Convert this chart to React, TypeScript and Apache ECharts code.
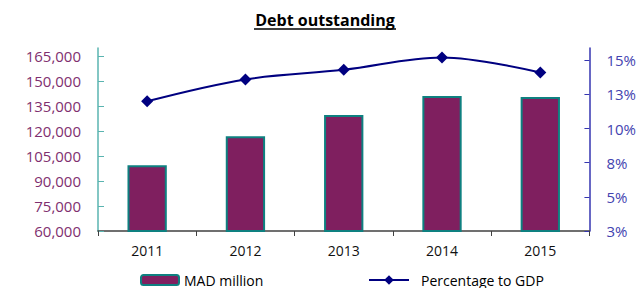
import React, { useEffect, useRef } from "react";
import * as echarts from "echarts";

const years = ["2011", "2012", "2013", "2014", "2015"];
const debtMad = [99500, 117000, 129700, 141100, 140500];
const pctGdp = [12.0, 13.6, 14.3, 15.2, 14.1];
const leftTicks = [60000, 75000, 90000, 105000, 120000, 135000, 150000, 165000];
const rightTicks = [2.5, 5, 7.5, 10, 12.5, 15];

const FONT = '"Open Sans", "Noto Sans", sans-serif';

export default function App() {
  const ref = useRef<HTMLDivElement>(null);
  useEffect(() => {
    document.body.style.margin = "0";
    if (!ref.current) return;
    const chart = echarts.init(ref.current, undefined, { renderer: "svg" });
    chart.setOption({
      animation: false,
      backgroundColor: "#ffffff",
      textStyle: { fontFamily: FONT },
      graphic: [
        {
          type: "text",
          x: 325,
          y: 20,
          style: {
            text: "Debt outstanding",
            font: `bold 16px ${FONT}`,
            fill: "#000000",
            textAlign: "center",
            textVerticalAlign: "middle",
          },
        },
        {
          type: "line",
          shape: { x1: 254, y1: 29, x2: 396, y2: 29 },
          style: { stroke: "#000000", lineWidth: 1.5 },
        },
      ],
      grid: { left: 98, right: 48, top: 48, bottom: 57 },
      legend: [
        {
          data: ["MAD million"],
          left: 135,
          top: 268,
          itemWidth: 38,
          itemHeight: 10,
          textStyle: { fontSize: 14, color: "#000000", fontFamily: FONT },
        },
        {
          data: ["Percentage to GDP"],
          left: 363,
          top: 268,
          itemWidth: 40,
          itemHeight: 12,
          textStyle: { fontSize: 14, color: "#000000", fontFamily: FONT, padding: [0, 0, 0, 7] },
        },
      ],
      xAxis: {
        type: "category",
        data: years,
        axisLine: { lineStyle: { color: "#404040", width: 1.5 } },
        axisTick: { show: true, length: 5, lineStyle: { color: "#404040" } },
        axisLabel: { fontSize: 14, color: "#111111", margin: 12, fontFamily: FONT },
      },
      yAxis: [
        {
          type: "value",
          min: 60000,
          max: 170000,
          interval: 15000,
          splitLine: { show: false },
          axisLine: { show: true, lineStyle: { color: "#5AB4B0", width: 1.5 } },
          axisTick: {
            show: true,
            inside: true,
            length: 6,
            lineStyle: { color: "#5AB4B0" },
            customValues: leftTicks,
          },
          axisLabel: {
            fontSize: 15,
            color: "#7F2F6F",
            margin: 17,
            fontFamily: FONT,
            customValues: leftTicks,
            formatter: (v: number) => v.toLocaleString("en-US"),
          },
        },
        {
          type: "value",
          min: 2.5,
          max: 15.9,
          interval: 2.5,
          position: "right",
          splitLine: { show: false },
          axisLine: { show: true, lineStyle: { color: "#3535B0", width: 1.5 } },
          axisTick: {
            show: true,
            inside: true,
            length: 5,
            lineStyle: { color: "#3535B0" },
            customValues: rightTicks,
          },
          axisLabel: {
            fontSize: 15,
            color: "#4343B0",
            margin: 17,
            fontFamily: FONT,
            customValues: rightTicks,
            formatter: (v: number) => Math.round(v) + "%",
          },
        },
      ],
      series: [
        {
          name: "MAD million",
          type: "bar",
          yAxisIndex: 0,
          data: debtMad,
          barWidth: "40%",
          itemStyle: { color: "#7F1F5F", borderColor: "#0E8080", borderWidth: 2 },
        },
        {
          name: "Percentage to GDP",
          type: "line",
          yAxisIndex: 1,
          data: pctGdp,
          smooth: 0.35,
          symbol: "diamond",
          symbolSize: 12,
          lineStyle: { color: "#000080", width: 2 },
          itemStyle: { color: "#000080" },
        },
      ],
    });
    return () => chart.dispose();
  }, []);
  return <div ref={ref} style={{ width: 639, height: 288 }} />;
}
